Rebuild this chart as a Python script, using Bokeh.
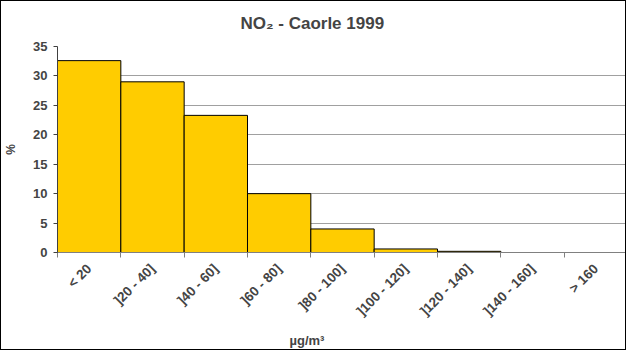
import math
from bokeh.plotting import figure
from bokeh.models import ColumnDataSource, FixedTicker, Range1d, Title
from bokeh.embed import file_html
from bokeh.resources import INLINE

categories = ["< 20", "]20 - 40]", "]40 - 60]", "]60 - 80]", "]80 - 100]",
              "]100 - 120]", "]120 - 140]", "]140 - 160]", "> 160"]
percent = [32.6, 29.0, 23.3, 10.0, 4.0, 0.6, 0.2, 0.0, 0.0]
y_ticks = [0, 5, 10, 15, 20, 25, 30, 35]

centers = [i + 0.5 for i in range(len(categories))]
src = ColumnDataSource(dict(x=centers, top=percent, cat=categories))

FONT = "Liberation Sans"

p = figure(width=626, height=350, output_backend="svg", toolbar_location=None,
           x_range=Range1d(0, len(categories)), y_range=Range1d(0, 35),
           min_border_left=54, min_border_right=0, min_border_top=45,
           min_border_bottom=98, title="NO\u2082 - Caorle 1999")
p.styles = {"border": "1.5px solid black", "box-sizing": "border-box"}
p.outline_line_color = None
p.background_fill_color = "white"
p.border_fill_color = "white"

p.title.align = "left"
p.title.text_font = FONT
p.title.text_font_size = "17px"
p.title.text_font_style = "bold"
p.title.offset = 183
p.title.standoff = 24
p.title.vertical_align = "top"

p.vbar(x="x", top="top", width=1.0, bottom=0, source=src,
       fill_color="#FFCC00", line_color="black", line_width=1)

# y axis
p.yaxis.ticker = FixedTicker(ticks=y_ticks)
p.yaxis.axis_label = "%"
p.yaxis.axis_label_text_font = FONT
p.yaxis.axis_label_text_font_style = "bold"
p.yaxis.axis_label_text_font_size = "12px"
p.yaxis.axis_label_standoff = 12
p.yaxis.major_label_text_font = FONT
p.yaxis.major_label_text_font_style = "bold"
p.yaxis.major_label_text_font_size = "13px"
p.yaxis.axis_line_color = "#404040"
p.yaxis.major_tick_line_color = "#404040"
p.yaxis.major_tick_out = 4
p.yaxis.major_tick_in = 0
p.yaxis.minor_tick_line_color = None
p.yaxis.major_label_standoff = 6

# x axis: labels at centres, tick marks at boundaries
p.xaxis.ticker = FixedTicker(ticks=centers, minor_ticks=list(range(len(categories) + 1)))
p.xaxis.major_label_overrides = {c: lab for c, lab in zip(centers, categories)}
p.xaxis.major_label_orientation = math.pi / 4
p.xaxis.major_label_text_font = FONT
p.xaxis.major_label_text_font_style = "bold"
p.xaxis.major_label_text_font_size = "13.5px"
p.xaxis.major_label_standoff = 8
p.xaxis.major_tick_line_color = None
p.xaxis.minor_tick_line_color = "#808080"
p.xaxis.minor_tick_out = 5
p.xaxis.minor_tick_in = 0
p.xaxis.axis_line_color = "#808080"

xlab = Title(text="\u00b5g/m\u00b3", align="left", offset=232, standoff=8,
             text_font=FONT, text_font_style="bold", text_font_size="13px")
p.add_layout(xlab, "below")

p.xgrid.grid_line_color = None
p.ygrid.grid_line_color = "#a0a0a0"
p.ygrid.grid_line_width = 1

open("out.html", "w").write(file_html(p, INLINE))
